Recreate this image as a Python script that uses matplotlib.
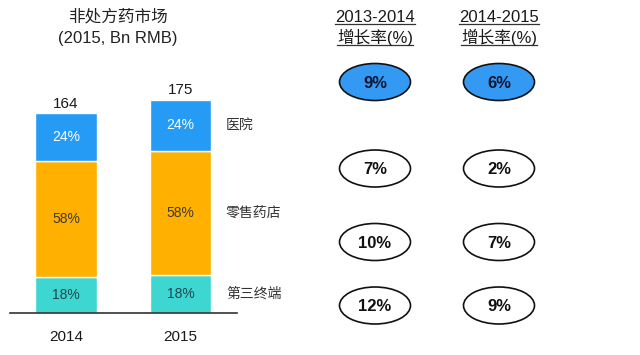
import matplotlib
matplotlib.use('Agg')
import matplotlib.pyplot as plt
from matplotlib.patches import Ellipse

plt.rcParams['font.family'] = ['Liberation Sans', 'Noto Sans CJK SC']

# Data:
years = ['2014', '2015']
totals = [164, 175]
channels = ['第三终端', '零售药店', '医院']          # bottom -> top
shares = {'第三终端': [18, 18], '零售药店': [58, 58], '医院': [24, 24]}
colors = {'第三终端': '#3ED6D0', '零售药店': '#FFB000', '医院': '#259BF6'}
text_colors = {'第三终端': '#1f4650', '零售药店': '#3a3a3a', '医院': 'white'}

growth_headers = ['2013-2014', '2014-2015']
growth_1314 = [9, 7, 10, 12]   # total, hospital, retail, third terminal
growth_1415 = [6, 2, 7, 9]

fig = plt.figure(figsize=(6.4, 3.55), dpi=100)

# Left: stacked bars
ax = fig.add_axes([10/640, (355-313.3)/355, 227/640, 200*1.221/355])
x = [0, 1]
bottoms = [0, 0]
for ch in channels:
    vals = [t * s / 100 for t, s in zip(totals, shares[ch])]
    ax.bar(x, vals, width=0.54, bottom=bottoms, color=colors[ch],
           edgecolor='white', linewidth=1)
    for i in range(2):
        ax.text(x[i], bottoms[i] + vals[i] / 2, '%d%%' % shares[ch][i],
                ha='center', va='center', fontsize=10, color=text_colors[ch])
    # channel label next to the 2015 bar
    ax.text(1.397, bottoms[1] + vals[1] / 2, ch, ha='left', va='center',
            fontsize=10, color='#333333')
    bottoms = [b + v for b, v in zip(bottoms, vals)]
for i in range(2):
    ax.annotate(str(totals[i]), (x[i], totals[i]), xytext=(0, 4),
                textcoords='offset points', ha='center', va='baseline',
                fontsize=11, color='#1a1a1a')
ax.set_xlim(-0.489, 1.493)
ax.set_ylim(0, 200)
ax.set_xticks(x)
ax.set_xticklabels(years, fontsize=11, color='#1a1a1a')
ax.tick_params(axis='x', length=0, pad=12)
ax.set_yticks([])
for s in ['top', 'left', 'right']:
    ax.spines[s].set_visible(False)
ax.spines['bottom'].set_color('#333333')
ax.spines['bottom'].set_linewidth(1.2)

fig.text(118/640, 1 - 17/355, '非处方药市场', ha='center', va='center',
         fontsize=12, color='#222222')
fig.text(118/640, 1 - 38/355, '(2015, Bn RMB)', ha='center', va='center',
         fontsize=12, color='#222222')

# Right: growth-rate ellipses
ov = fig.add_axes([0, 0, 1, 1])
ov.set_xlim(0, 640)
ov.set_ylim(355, 0)
ov.axis('off')
col_x = [375, 499]
row_y = [82, 168.5, 242, 305.5]
headers = []
for cx, h in zip(col_x, growth_headers):
    t1 = ov.text(cx, 17, h, ha='center', va='center', fontsize=12, color='#1a1a1a')
    t2 = ov.text(cx, 37, '增长率(%)', ha='center', va='center', fontsize=12,
                 color='#1a1a1a')
    headers += [(t1, 24), (t2, 45)]
for cx, rates in zip(col_x, [growth_1314, growth_1415]):
    for j, (cy, r) in enumerate(zip(row_y, rates)):
        fc = '#3399F2' if j == 0 else 'white'
        ov.add_patch(Ellipse((cx, cy), 71, 37, facecolor=fc, edgecolor='#111111',
                             linewidth=1.2))
        ov.text(cx, cy + 1, '%d%%' % r, ha='center', va='center', fontsize=12,
                fontweight='bold', color='#0d1530' if j == 0 else '#111111')

# underline the headers
fig.canvas.draw()
renderer = fig.canvas.get_renderer()
inv = ov.transData.inverted()
for t, uy in headers:
    bb = t.get_window_extent(renderer)
    (x0, _), (x1, _) = inv.transform([(bb.x0, bb.y0), (bb.x1, bb.y1)])
    ov.plot([x0, x1], [uy, uy], color='#333333', linewidth=0.9)

fig.savefig('out.png', dpi=100)
plt.close(fig)
